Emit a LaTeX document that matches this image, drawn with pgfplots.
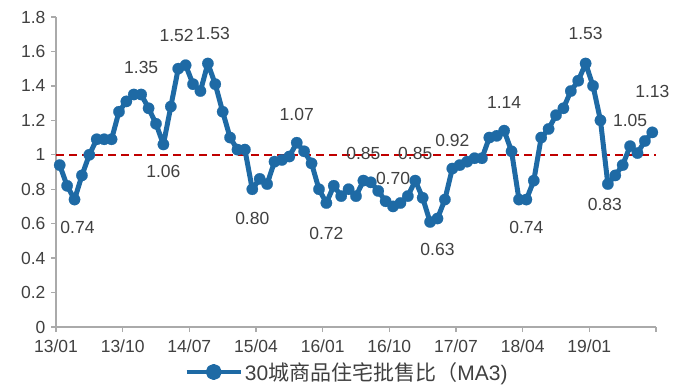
\documentclass[border=0pt]{standalone}
\usepackage{pgfplots}
\pgfplotsset{compat=1.18}
\usepackage{pgfplotstable}
\usepackage{fontspec}
\setmainfont{Liberation Sans}
\newfontfamily\cjk{Noto Sans CJK SC}

\definecolor{serblue}{RGB}{30,106,165}
\definecolor{refred}{RGB}{192,0,0}
\definecolor{txtgray}{RGB}{64,64,64}
\definecolor{axgray}{RGB}{170,170,170}

% 30-city residential wholesale/sales ratio, 3-month moving average, monthly from 2013-01
\pgfplotstableread{
i v
0 0.94
1 0.82
2 0.74
3 0.88
4 1.00
5 1.09
6 1.09
7 1.09
8 1.25
9 1.31
10 1.35
11 1.35
12 1.27
13 1.18
14 1.06
15 1.28
16 1.50
17 1.52
18 1.41
19 1.37
20 1.53
21 1.41
22 1.25
23 1.10
24 1.03
25 1.03
26 0.80
27 0.86
28 0.83
29 0.96
30 0.97
31 0.99
32 1.07
33 1.02
34 0.95
35 0.80
36 0.72
37 0.82
38 0.76
39 0.80
40 0.76
41 0.85
42 0.84
43 0.79
44 0.73
45 0.70
46 0.72
47 0.76
48 0.85
49 0.75
50 0.61
51 0.63
52 0.74
53 0.92
54 0.94
55 0.96
56 0.98
57 0.98
58 1.10
59 1.11
60 1.14
61 1.02
62 0.74
63 0.74
64 0.85
65 1.10
66 1.15
67 1.23
68 1.27
69 1.37
70 1.43
71 1.53
72 1.40
73 1.20
74 0.83
75 0.88
76 0.94
77 1.05
78 1.01
79 1.08
80 1.13
}\ratio

\newcommand{\lbl}[4]{\node[font=\fontsize{17.5}{17.5}\selectfont, text=txtgray, inner sep=0pt]
  at (axis cs:#1,#2) [xshift=#4, yshift=#3] {#2};}

\begin{document}
\begin{tikzpicture}[x=1pt,y=1pt]
\useasboundingbox (0,0) rectangle (687,385);
\begin{axis}[
  at={(56pt,58pt)}, anchor=south west,
  scale only axis, width=600pt, height=310pt,
  xmin=-0.5, xmax=80.5, ymin=0, ymax=1.8,
  axis x line*=bottom, axis y line*=left,
  axis line style={axgray, line width=1.3pt, -},
  xtick={-0.5,8.5,17.5,26.5,35.5,44.5,53.5,62.5,71.5,80.5},
  xticklabels={13/01,13/10,14/07,15/04,16/01,16/10,17/07,18/04,19/01,},
  ytick={0,0.2,0.4,0.6,0.8,1,1.2,1.4,1.6,1.8},
  yticklabels={0,0.2,0.4,0.6,0.8,1,1.2,1.4,1.6,1.8},
  tick style={axgray, line width=1.3pt},
  major tick length=5pt,
  tick align=outside,
  ticklabel style={font=\fontsize{17.5}{17.5}\selectfont, text=txtgray},
  xticklabel style={yshift=-4pt},
  yticklabel style={xshift=-2pt},
  clip=false,
  legend style={at={(axis description cs:0.5,0)}, anchor=center,
    xshift=-9pt, yshift=-45pt, draw=none, fill=none,
    font=\fontsize{21}{21}\selectfont, text=txtgray,
    /tikz/every even column/.append style={column sep=2pt}},
  legend image code/.code={
    \draw[serblue, line width=4.5pt] (0pt,0pt) -- (54pt,0pt);
    \fill[serblue] (27pt,0pt) circle (5.5pt);
  },
]
\addplot[refred, line width=2pt, dash pattern=on 8pt off 5pt, forget plot]
  coordinates {(-0.5,1) (80.5,1)};
\addplot[serblue, line width=5pt, line join=round, mark=*, mark size=5.7pt,
  mark options={solid, fill=serblue, draw=serblue, line width=0.2pt}]
  table[x=i, y=v] {\ratio};
\addlegendentry{30{\cjk 城商品住宅批售比（}MA3)}

\lbl{2}{0.74}{-28pt}{3pt}
\lbl{11}{1.35}{27pt}{0pt}
\lbl{14}{1.06}{-27pt}{0pt}
\lbl{17}{1.52}{30pt}{-9pt}
\lbl{20}{1.53}{30pt}{5pt}
\lbl{26}{0.80}{-29pt}{0pt}
\lbl{32}{1.07}{28pt}{0pt}
\lbl{36}{0.72}{-30pt}{0pt}
\lbl{41}{0.85}{27pt}{0pt}
\lbl{45}{0.70}{28pt}{0pt}
\lbl{48}{0.85}{27pt}{0pt}
\lbl{51}{0.63}{-31pt}{0pt}
\lbl{53}{0.92}{28pt}{0pt}
\lbl{60}{1.14}{28pt}{0pt}
\lbl{63}{0.74}{-28pt}{0pt}
\lbl{71}{1.53}{30pt}{0pt}
\lbl{74}{0.83}{-20pt}{-3pt}
\lbl{77}{1.05}{26pt}{0pt}
\lbl{80}{1.13}{41pt}{0pt}
\end{axis}
\end{tikzpicture}
\end{document}
